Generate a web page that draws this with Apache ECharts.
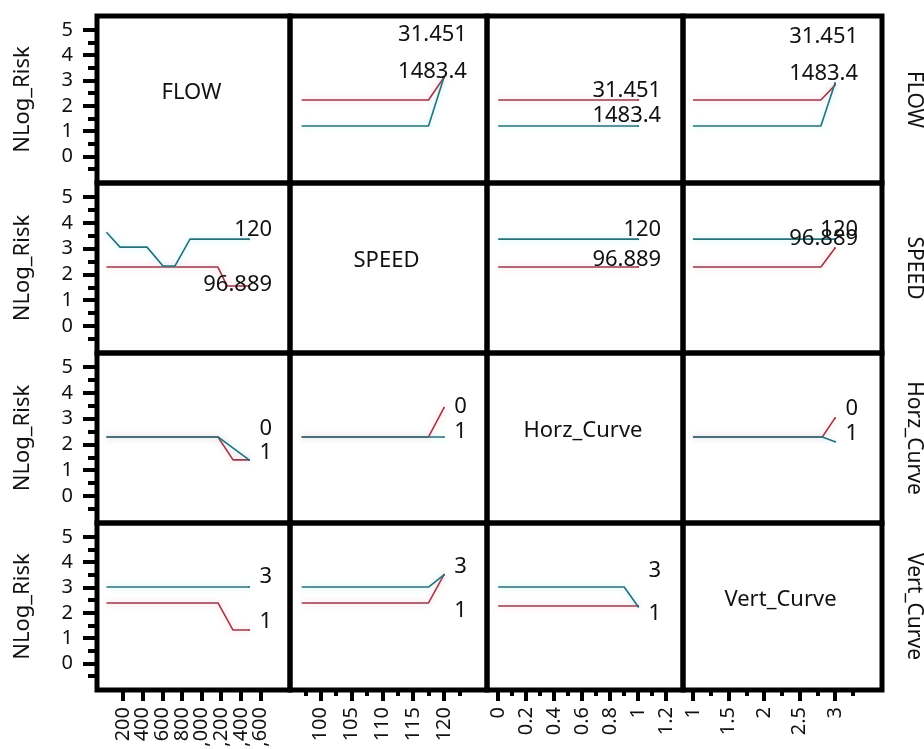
<!DOCTYPE html>
<html>
<head>
<meta charset="utf-8">
<script src="https://cdn.jsdelivr.net/npm/echarts@6/dist/echarts.min.js"></script>
<style>
  html, body { margin: 0; padding: 0; background: #fff; }
  #chart { width: 924px; height: 749px; }
</style>
</head>
<body>
<div id="chart"></div>
<script>
// factors and their low / high levels
const factors = ['FLOW', 'SPEED', 'Horz_Curve', 'Vert_Curve']
const levels = [['31.451', '1483.4'], ['96.889', '120'], ['0', '1'], ['1', '3']]
const responseName = 'NLog_Risk'

// y axis (shared by every row)
const yRange = [-1.05, 5.55]
const yTicks = [0, 1, 2, 3, 4, 5]
const yMinorTicks = [-0.5, 0.5, 1.5, 2.5, 3.5, 4.5]

// x axis per column
const xRanges = [[-65, 1900], [95, 127], [-0.08, 1.32], [0.86, 3.66]]
const xTicks = [
  [200, 400, 600, 800, 1000, 1200, 1400, 1600],
  [100, 105, 110, 115, 120],
  [0, 0.2, 0.4, 0.6, 0.8, 1, 1.2],
  [1, 1.5, 2, 2.5, 3],
]
const xMinorTicks = [
  [],
  [97.5, 102.5, 107.5, 112.5, 117.5, 122.5],
  [0.1, 0.3, 0.5, 0.7, 0.9, 1.1],
  [1.25, 1.75, 2.25, 2.75, 3.25],
]

// interaction traces: [low level, high level], points are [column factor, NLog_Risk]
const flowBySpeed = [
  [[96.889, 2.23], [117.5, 2.23], [120, 3.12]],
  [[96.889, 1.2], [117.5, 1.2], [120, 3.12]],
]
const flowByHorz = [
  [[0, 2.23], [1, 2.23]],
  [[0, 1.2], [1, 1.2]],
]
const flowByVert = [
  [[1, 2.23], [2.8, 2.23], [3, 2.82]],
  [[1, 1.2], [2.8, 1.2], [3, 2.9]],
]
const speedByFlow = [
  [[31.451, 2.29], [1165, 2.29], [1260, 1.55], [1483.4, 1.55]],
  [[31.451, 3.64], [169, 3.06], [444, 3.06], [607, 2.33], [729, 2.33], [882, 3.37], [1483.4, 3.37]],
]
const speedByHorz = [
  [[0, 2.29], [1, 2.29]],
  [[0, 3.37], [1, 3.37]],
]
const speedByVert = [
  [[1, 2.29], [2.8, 2.29], [3, 3.03]],
  [[1, 3.37], [3, 3.37]],
]
const horzByFlow = [
  [[31.451, 2.29], [1167, 2.29], [1320, 1.4], [1483.4, 1.4]],
  [[31.451, 2.29], [1167, 2.29], [1483.4, 1.4]],
]
const horzBySpeed = [
  [[96.889, 2.29], [117.5, 2.29], [120, 3.42]],
  [[96.889, 2.29], [120, 2.29]],
]
const horzByVert = [
  [[1, 2.29], [2.82, 2.29], [3, 3.03]],
  [[1, 2.29], [2.82, 2.29], [3, 2.1]],
]
const vertByFlow = [
  [[31.451, 2.39], [1167, 2.39], [1320, 1.32], [1483.4, 1.32]],
  [[31.451, 3.02], [1483.4, 3.02]],
]
const vertBySpeed = [
  [[96.889, 2.39], [117.5, 2.39], [120, 3.5]],
  [[96.889, 3.02], [117.5, 3.02], [120, 3.5]],
]
const vertByHorz = [
  [[0, 2.27], [1, 2.27]],
  [[0, 3.02], [0.9, 3.02], [1, 2.24]],
]

// row factor -> column factor
const traces = {
  '0-1': flowBySpeed, '0-2': flowByHorz, '0-3': flowByVert,
  '1-0': speedByFlow, '1-2': speedByHorz, '1-3': speedByVert,
  '2-0': horzByFlow, '2-1': horzBySpeed, '2-3': horzByVert,
  '3-0': vertByFlow, '3-1': vertBySpeed, '3-2': vertByHorz,
}

// layout (px)
const cellX = [97, 290, 487, 683, 882]
const cellY = [16, 183, 353, 523, 690]
// vertical shift of each end label, [low, high]
const labelShift = {
  '0-1': [-42, -5], '0-2': [-8, -9], '0-3': [-47, -8],
  '1-0': [0, -8], '1-2': [-6, -8], '1-3': [-8, -8],
  '2-0': [-30, -6], '2-1': [0, -4], '2-3': [-8, -7],
  '3-0': [-7, -9], '3-1': [37, -7], '3-2': [9, -35],
}
const lineColors = ['#9a3a4a', '#27707a']
const glowColors = ['rgba(255,110,130,0.45)', 'rgba(80,220,230,0.45)']
const font = 'Noto Sans'
const textColor = '#111'

const grids = []
const xAxes = []
const yAxes = []
const series = []
const graphics = []

function tickAxis(g, range, ticks, labels, len, pos) {
  const horizontal = pos === 'bottom'
  return {
    gridIndex: g, type: 'value', min: range[0], max: range[1], position: pos,
    axisLine: { show: false, onZero: false }, splitLine: { show: false },
    axisTick: { show: ticks.length > 0, length: len, customValues: ticks, lineStyle: { color: '#000', width: 4 } },
    axisLabel: {
      show: labels.length > 0, customValues: labels, showMinLabel: true, showMaxLabel: true, hideOverlap: false,
      rotate: horizontal ? 90 : 0, margin: horizontal ? 17 : 24,
      fontSize: 20, fontFamily: font, color: textColor,
    },
  }
}

for (let r = 0; r < 4; r++) {
  for (let c = 0; c < 4; c++) {
    const g = grids.length
    grids.push({
      left: cellX[c], top: cellY[r],
      width: cellX[c + 1] - cellX[c], height: cellY[r + 1] - cellY[r],
      show: true, borderColor: '#000', borderWidth: 5, backgroundColor: 'transparent',
      outerBoundsMode: 'none', containLabel: false,
    })
    const bottom = r === 3
    const left = c === 0
    // every other label here, the rest on a companion axis, so crowded labels are all kept
    const evenLabels = bottom ? xTicks[c].filter((v, i) => i % 2 === 0) : []
    xAxes.push(tickAxis(g, xRanges[c], bottom ? xTicks[c] : [], evenLabels, 11, 'bottom'))
    yAxes.push(tickAxis(g, yRange, left ? yTicks : [], left ? yTicks : [], 14, 'left'))

    const cx = (cellX[c] + cellX[c + 1]) / 2
    const cy = (cellY[r] + cellY[r + 1]) / 2
    if (r === c) {
      graphics.push({
        type: 'text', x: cx - 2, y: cy - 7,
        style: { text: factors[r], font: `22px "${font}"`, fill: textColor, align: 'center', verticalAlign: 'middle' },
      })
      continue
    }

    const key = r + '-' + c
    traces[key].forEach((pts, k) => {
      series.push({
        type: 'line', xAxisIndex: g, yAxisIndex: g, data: pts,
        showSymbol: false, silent: true, animation: false,
        lineStyle: { color: lineColors[k], width: 1.6, shadowColor: glowColors[k], shadowBlur: 6 },
      })
    })
    // level names at the line ends
    traces[key].forEach((pts, k) => {
      series.push({
        type: 'scatter', xAxisIndex: g, yAxisIndex: g, data: [pts[pts.length - 1]],
        symbolSize: 2, itemStyle: { color: lineColors[k], opacity: 1 }, silent: true, z: 5,
        label: {
          show: true, formatter: levels[r][k], position: [24, labelShift[key][k]],
          align: 'right', verticalAlign: 'middle', opacity: 1,
          fontSize: 22, fontFamily: font, color: textColor,
        },
      })
    })
  }
}

// minor ticks and the odd labels on the outer axes
for (let c = 0; c < 4; c++) {
  const oddLabels = xTicks[c].filter((v, i) => i % 2 === 1)
  xAxes.push(tickAxis(12 + c, xRanges[c], xMinorTicks[c], oddLabels, 6, 'bottom'))
}
for (let r = 0; r < 4; r++) {
  yAxes.push(tickAxis(r * 4, yRange, yMinorTicks, [], 9, 'left'))
  const cy = (cellY[r] + cellY[r + 1]) / 2
  graphics.push({
    type: 'text', x: 23, y: cy, rotation: Math.PI / 2,
    style: { text: responseName, font: `22px "${font}"`, fill: textColor, align: 'center', verticalAlign: 'middle' },
  })
  graphics.push({
    type: 'text', x: 914, y: cy, rotation: -Math.PI / 2,
    style: { text: factors[r], font: `21px "${font}"`, fill: textColor, align: 'center', verticalAlign: 'middle' },
  })
}

const chart = echarts.init(document.getElementById('chart'), null, { renderer: 'canvas' })
chart.setOption({
  backgroundColor: '#fff',
  animation: false,
  grid: grids,
  xAxis: xAxes,
  yAxis: yAxes,
  series,
  graphic: graphics,
})
</script>
</body>
</html>
